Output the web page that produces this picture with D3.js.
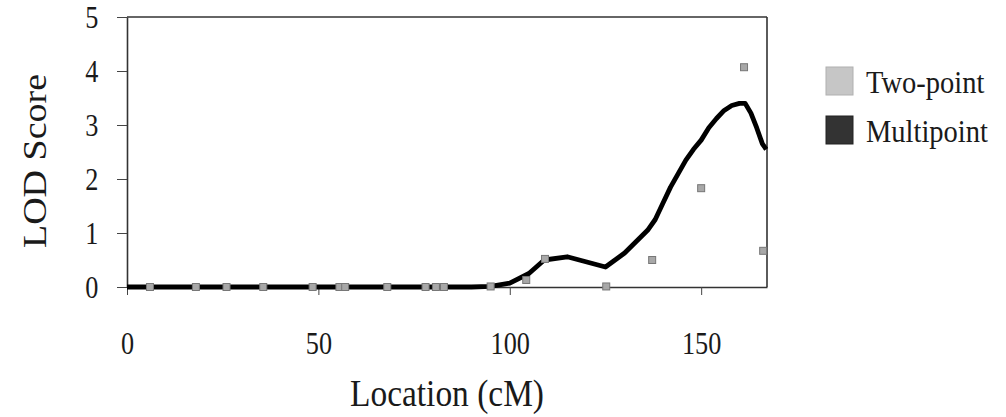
<!DOCTYPE html>
<html><head><meta charset="utf-8">
<script src="https://cdn.jsdelivr.net/npm/d3@7"></script>
<style>body{margin:0;background:#fff}svg{display:block}text{font-family:"Liberation Serif","Times New Roman",serif;fill:#1a1a1a}</style>
</head><body><svg id="c" width="1006" height="417"></svg>
<script>
const xTicks = [0, 50, 100, 150];
const yTicks = [0, 1, 2, 3, 4, 5];
const twoPointX = [6, 18, 26, 35.6, 48.5, 55.5, 57, 68, 78, 80.7, 82.8, 95, 104.3, 109.2, 125.2, 137.2, 150, 161.2, 166.2];
const twoPointY = [0, 0, 0, 0, 0, 0, 0, 0, 0, 0, 0, 0.01, 0.13, 0.52, 0.01, 0.5, 1.83, 4.07, 0.67];
const multiX = [0, 20, 40, 60, 80, 90, 95, 100, 105, 109, 115, 125, 130, 136, 138, 140, 142, 144, 146, 148, 150, 152, 154, 156, 158, 160, 161.5, 163, 164.5, 166, 167];
const multiY = [0, 0, 0, 0, 0, 0, 0.01, 0.07, 0.25, 0.5, 0.56, 0.37, 0.63, 1.05, 1.25, 1.55, 1.85, 2.1, 2.35, 2.55, 2.72, 2.95, 3.12, 3.27, 3.36, 3.40, 3.40, 3.22, 2.95, 2.65, 2.55];
const legendLabels = ["Two-point", "Multipoint"];
const xTitle = "Location (cM)";
const yTitle = "LOD Score";

const svg = d3.select("#c");
const m = {l: 127, t: 17, r: 767, b: 287};
const x = d3.scaleLinear().domain([0, 167.2]).range([m.l, m.r]);
const y = d3.scaleLinear().domain([0, 5]).range([m.b, m.t]);
const sx = 0.82;

svg.append("line").attr("x1", m.l).attr("x2", m.r).attr("y1", m.t).attr("y2", m.t).attr("stroke", "#333").attr("stroke-width", 1.6);
svg.append("line").attr("x1", m.r).attr("x2", m.r).attr("y1", m.t).attr("y2", m.b).attr("stroke", "#333").attr("stroke-width", 1.6);

const xa = svg.append("g").attr("transform", `translate(0,${m.b})`)
  .call(d3.axisBottom(x).tickValues(xTicks).tickFormat(d3.format("d")).tickSize(8).tickPadding(36).tickSizeOuter(0));
xa.select(".domain").attr("stroke", "#333").attr("stroke-width", 1.3);
xa.selectAll(".tick line").attr("stroke", "#444");
xa.selectAll("text").style("font-size", "32px").attr("font-family", null).attr("transform", `scale(${sx},1)`);

const ya = svg.append("g").attr("transform", `translate(${m.l},0)`)
  .call(d3.axisLeft(y).tickValues(yTicks).tickFormat(d3.format("d")).tickSize(10).tickPadding(25).tickSizeOuter(0));
ya.select(".domain").attr("stroke", "#333").attr("stroke-width", 1.6);
ya.selectAll(".tick line").attr("stroke", "#444");
ya.selectAll("text").style("font-size", "32px").attr("font-family", null).attr("dy", "0.33em").attr("transform", `scale(${sx},1)`);

svg.append("path").datum(multiX.map((d, i) => [d, multiY[i]]))
  .attr("d", d3.line().x(d => x(d[0])).y(d => y(d[1])))
  .attr("fill", "none").attr("stroke", "#000").attr("stroke-width", 4.8).attr("stroke-linejoin", "round");

svg.append("g").selectAll("rect").data(twoPointX.map((d, i) => [d, twoPointY[i]])).join("rect")
  .attr("x", d => x(d[0]) - 3.5).attr("y", d => y(d[1]) - 3.5).attr("width", 7).attr("height", 7)
  .attr("fill", "#a8a8a8").attr("stroke", "#777").attr("stroke-width", 1);

svg.append("text").attr("transform", `translate(447,406) scale(0.88,1)`).attr("text-anchor", "middle").style("font-size", "38px").text(xTitle);
svg.append("text").attr("transform", "translate(46,161) rotate(-90) scale(1,0.88)").attr("text-anchor", "middle").style("font-size", "38px").text(yTitle);

const lg = svg.append("g");
const swFill = ["#c6c6c6", "#333333"];
const swStroke = ["#b0b0b0", "#222"];
legendLabels.forEach((lab, i) => {
  const cy = 81 + i * 49;
  lg.append("rect").attr("x", 826).attr("y", cy - 14).attr("width", 27).attr("height", 28)
    .attr("fill", swFill[i]).attr("stroke", swStroke[i]).attr("stroke-width", 1);
  lg.append("text").attr("transform", `translate(866,${cy + 1}) scale(0.92,1)`).attr("dy", "0.35em").style("font-size", "31px").text(lab);
});
</script></body></html>
